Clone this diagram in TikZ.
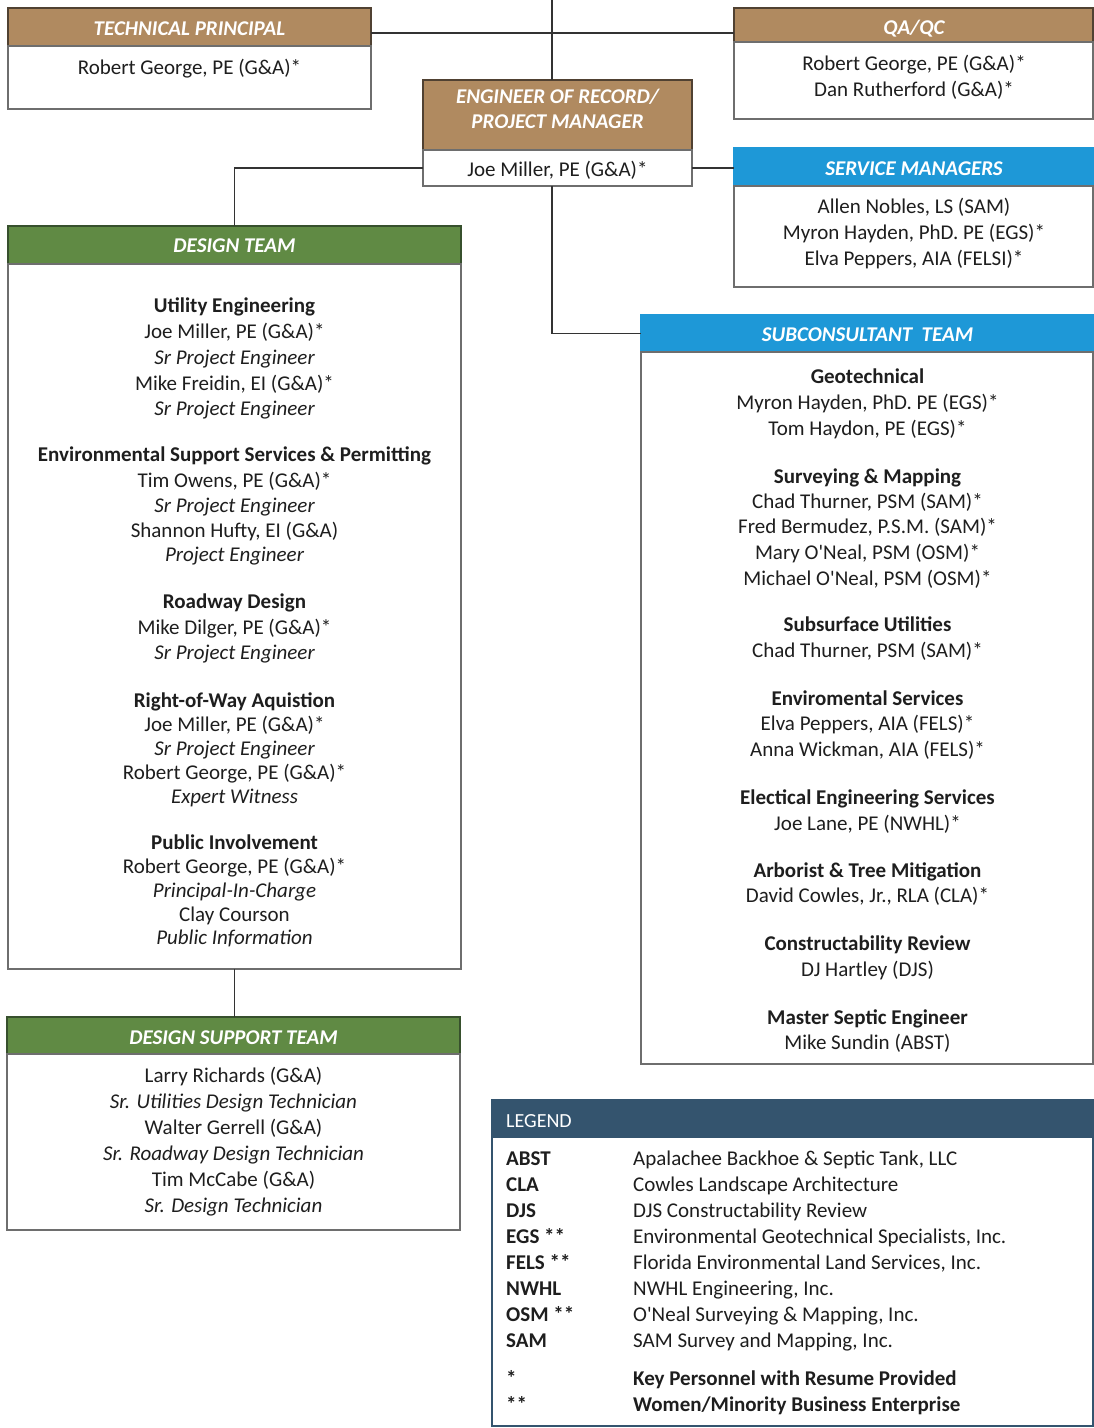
\documentclass[tikz,border=0pt]{standalone}
\usepackage{fontspec}
\setmainfont{Carlito}
\definecolor{tanc}{RGB}{176,138,96}
\definecolor{tanline}{RGB}{80,65,50}
\definecolor{greenc}{RGB}{96,138,68}
\definecolor{greenline}{RGB}{55,80,45}
\definecolor{bluec}{RGB}{30,152,215}
\definecolor{legc}{RGB}{52,84,110}
\definecolor{boxc}{RGB}{110,110,110}
\definecolor{txtc}{RGB}{30,30,30}
\newcommand{\apo}{\textquotesingle}
\tikzset{
  box/.style={draw=boxc, line width=1.5pt, fill=white, anchor=north west, inner sep=0pt, outer sep=0pt},
  tanhdr/.style={draw=tanline, line width=1.5pt, fill=tanc, anchor=north west, inner sep=0pt, outer sep=0pt},
  greenhdr/.style={draw=greenline, line width=1.5pt, fill=greenc, anchor=north west, inner sep=0pt, outer sep=0pt},
  bluehdr/.style={draw=bluec, line width=1.5pt, fill=bluec, anchor=north west, inner sep=0pt, outer sep=0pt},
  leghdr/.style={draw=legc, line width=1.5pt, fill=legc, anchor=north west, inner sep=0pt, outer sep=0pt},
  legbox/.style={draw=legc, line width=1.5pt, fill=white, anchor=north west, inner sep=0pt, outer sep=0pt},
  conn/.style={draw=black!80, line width=1.5pt},
  txt/.style={font=\fontsize{21}{24}\selectfont, text=txtc, anchor=base, inner sep=0pt},
  hd/.style={txt, font=\fontsize{21}{24}\selectfont\bfseries},
  role/.style={txt, font=\fontsize{21}{24}\selectfont\itshape},
  htxt/.style={font=\fontsize{21}{24}\selectfont\bfseries\itshape, text=white, anchor=base, inner sep=0pt},
  ltxt/.style={txt, anchor=base west},
  lab/.style={txt, anchor=base west, font=\fontsize{21}{24}\selectfont\bfseries},
}
\begin{document}
\begin{tikzpicture}[x=1pt,y=-1pt]
\useasboundingbox (0,0) rectangle (1094,1428);
\fill[white] (0,0) rectangle (1094,1428);

% ---------- boxes ----------
% Technical principal
\node[tanhdr, minimum width=363pt, minimum height=38pt] (tph) at (8,8) {};
\node[box, minimum width=363pt, minimum height=63pt] (tpb) at (8,46) {};
% QA/QC
\node[tanhdr, minimum width=359pt, minimum height=34pt] (qah) at (734,8) {};
\node[box, minimum width=359pt, minimum height=77pt] (qab) at (734,42) {};
% Engineer of record
\node[tanhdr, minimum width=269pt, minimum height=70pt] (eorh) at (423,80) {};
\node[box, minimum width=269pt, minimum height=36pt] (eorb) at (423,150) {};
% Service managers
\node[bluehdr, minimum width=359pt, minimum height=38pt] (smh) at (734,148) {};
\node[box, minimum width=359pt, minimum height=101pt] (smb) at (734,186) {};
% Design team
\node[greenhdr, minimum width=453pt, minimum height=38pt] (dth) at (8,226) {};
\node[box, minimum width=453pt, minimum height=705pt] (dtb) at (8,264) {};
% Subconsultant team
\node[bluehdr, minimum width=452pt, minimum height=37pt] (sch) at (641,315) {};
\node[box, minimum width=452pt, minimum height=712pt] (scb) at (641,352) {};
% Design support team
\node[greenhdr, minimum width=453pt, minimum height=37pt] (dsth) at (7,1017) {};
\node[box, minimum width=453pt, minimum height=176pt] (dstb) at (7,1054) {};
% Legend
\node[leghdr, minimum width=601pt, minimum height=37pt] (lgh) at (492,1100) {};
\node[legbox, minimum width=601pt, minimum height=289pt] (lgb) at (492,1137) {};

% ---------- connectors ----------
\coordinate (top) at (552,0);
\coordinate (j1) at (552,33);
\draw[conn] (top) -- (top |- eorh.north);
\draw[conn] (j1 -| tpb.east) -- (j1 -| qab.west);
\draw[conn] (eorb.west) -- (eorb.west -| dth.north) -- (dth.north);
\draw[conn] (eorb.east) -- (eorb.east -| smh.west);
\draw[conn] (top |- eorb.south) -- (top |- sch.west) -- (sch.west);
\draw[conn] (dtb.south) -- (dtb.south |- dsth.north);

% ---------- header texts ----------
\node[htxt] (tpt) at (189.5,35) {TECHNICAL PRINCIPAL};
\node[htxt] (qat) at (914,34) {QA/QC};
\node[htxt] (eort1) at (557.5,103) {ENGINEER OF RECORD/};
\node[htxt] (eort2) at (557.5,128) {PROJECT MANAGER};
\node[htxt] (smt) at (914,175) {SERVICE MANAGERS};
\node[htxt] (dtt) at (234.5,252) {DESIGN TEAM};
\node[htxt] (sct) at (867.5,341) {SUBCONSULTANT\ \ TEAM};
\node[htxt] (dstt) at (233.5,1044) {DESIGN SUPPORT TEAM};
\node[htxt, anchor=base west, font=\fontsize{20}{24}\selectfont] (lgt) at (506,1127) {LEGEND};

% ---------- top boxes text ----------
\node[txt] (tp1) at (189.5,74) {Robert George, PE (G\&A)*};
\node[txt] (qa1) at (914,70) {Robert George, PE (G\&A)*};
\node[txt] (qa2) at (914,96) {Dan Rutherford (G\&A)*};
\node[txt] (eor1) at (557.5,176) {Joe Miller, PE (G\&A)*};
\node[txt] (sm1) at (914,213) {Allen Nobles, LS (SAM)};
\node[txt] (sm2) at (914,239) {Myron Hayden, PhD. PE (EGS)*};
\node[txt] (sm3) at (914,265) {Elva Peppers, AIA (FELSI)*};

% ---------- design team ----------
\node[hd]   (d1)  at (234.5,312) {Utility Engineering};
\node[txt]  (d2)  at (234.5,338) {Joe Miller, PE (G\&A)*};
\node[role] (d3)  at (234.5,364) {Sr Project Engineer};
\node[txt]  (d4)  at (234.5,390) {Mike Freidin, EI (G\&A)*};
\node[role] (d5)  at (234.5,415) {Sr Project Engineer};
\node[hd]   (d6)  at (234.5,461) {Environmental Support Services \& Permitting};
\node[txt]  (d7)  at (234.5,487) {Tim Owens, PE (G\&A)*};
\node[role] (d8)  at (234.5,512) {Sr Project Engineer};
\node[txt]  (d9)  at (234.5,537) {Shannon Hufty, EI (G\&A)};
\node[role] (d10) at (234.5,561) {Project Engineer};
\node[hd]   (d11) at (234.5,608) {Roadway Design};
\node[txt]  (d12) at (234.5,634) {Mike Dilger, PE (G\&A)*};
\node[role] (d13) at (234.5,659) {Sr Project Engineer};
\node[hd]   (d14) at (234.5,707) {Right-of-Way Aquistion};
\node[txt]  (d15) at (234.5,731) {Joe Miller, PE (G\&A)*};
\node[role] (d16) at (234.5,755) {Sr Project Engineer};
\node[txt]  (d17) at (234.5,779) {Robert George, PE (G\&A)*};
\node[role] (d18) at (234.5,803) {Expert Witness};
\node[hd]   (d19) at (234.5,849) {Public Involvement};
\node[txt]  (d20) at (234.5,873) {Robert George, PE (G\&A)*};
\node[role] (d21) at (234.5,897) {Principal-In-Charge};
\node[txt]  (d22) at (234.5,921) {Clay Courson};
\node[role] (d23) at (234.5,944) {Public Information};

% ---------- subconsultant team ----------
\node[hd]  (s1)  at (867.5,383) {Geotechnical};
\node[txt] (s2)  at (867.5,409) {Myron Hayden, PhD. PE (EGS)*};
\node[txt] (s3)  at (867.5,435) {Tom Haydon, PE (EGS)*};
\node[hd]  (s4)  at (867.5,483) {Surveying \& Mapping};
\node[txt] (s5)  at (867.5,508) {Chad Thurner, PSM (SAM)*};
\node[txt] (s6)  at (867.5,533) {Fred Bermudez, P.S.M. (SAM)*};
\node[txt] (s7)  at (867.5,559) {Mary O\apo Neal, PSM (OSM)*};
\node[txt] (s8)  at (867.5,585) {Michael O\apo Neal, PSM (OSM)*};
\node[hd]  (s9)  at (867.5,631) {Subsurface Utilities};
\node[txt] (s10) at (867.5,657) {Chad Thurner, PSM (SAM)*};
\node[hd]  (s11) at (867.5,705) {Enviromental Services};
\node[txt] (s12) at (867.5,730) {Elva Peppers, AIA (FELS)*};
\node[txt] (s13) at (867.5,756) {Anna Wickman, AIA (FELS)*};
\node[hd]  (s14) at (867.5,804) {Electical Engineering Services};
\node[txt] (s15) at (867.5,830) {Joe Lane, PE (NWHL)*};
\node[hd]  (s16) at (867.5,877) {Arborist \& Tree Mitigation};
\node[txt] (s17) at (867.5,902) {David Cowles, Jr., RLA (CLA)*};
\node[hd]  (s18) at (867.5,950) {Constructability Review};
\node[txt] (s19) at (867.5,976) {DJ Hartley (DJS)};
\node[hd]  (s20) at (867.5,1024) {Master Septic Engineer};
\node[txt] (s21) at (867.5,1049) {Mike Sundin (ABST)};

% ---------- design support team ----------
\node[txt]  (p1) at (233.5,1082) {Larry Richards (G\&A)};
\node[role] (p2) at (233.5,1108) {Sr. Utilities Design Technician};
\node[txt]  (p3) at (233.5,1134) {Walter Gerrell (G\&A)};
\node[role] (p4) at (233.5,1160) {Sr. Roadway Design Technician};
\node[txt]  (p5) at (233.5,1186) {Tim McCabe (G\&A)};
\node[role] (p6) at (233.5,1212) {Sr. Design Technician};

% ---------- legend ----------
\node[lab]  (la1)  at (506,1165) {ABST};
\node[ltxt] (lb1)  at (633,1165) {Apalachee Backhoe \& Septic Tank, LLC};
\node[lab]  (la2)  at (506,1191) {CLA};
\node[ltxt] (lb2)  at (633,1191) {Cowles Landscape Architecture};
\node[lab]  (la3)  at (506,1217) {DJS};
\node[ltxt] (lb3)  at (633,1217) {DJS Constructability Review};
\node[lab]  (la4)  at (506,1243) {EGS **};
\node[ltxt] (lb4)  at (633,1243) {Environmental Geotechnical Specialists, Inc.};
\node[lab]  (la5)  at (506,1269) {FELS **};
\node[ltxt] (lb5)  at (633,1269) {Florida Environmental Land Services, Inc.};
\node[lab]  (la6)  at (506,1295) {NWHL};
\node[ltxt] (lb6)  at (633,1295) {NWHL Engineering, Inc.};
\node[lab]  (la7)  at (506,1321) {OSM **};
\node[ltxt] (lb7)  at (633,1321) {O\apo Neal Surveying \& Mapping, Inc.};
\node[lab]  (la8)  at (506,1347) {SAM};
\node[ltxt] (lb8)  at (633,1347) {SAM Survey and Mapping, Inc.};
\node[lab]  (la9)  at (506,1385) {*};
\node[lab]  (lb9)  at (633,1385) {Key Personnel with Resume Provided};
\node[lab]  (la10) at (506,1411) {**};
\node[lab]  (lb10) at (633,1411) {Women/Minority Business Enterprise};
\end{tikzpicture}
\end{document}
